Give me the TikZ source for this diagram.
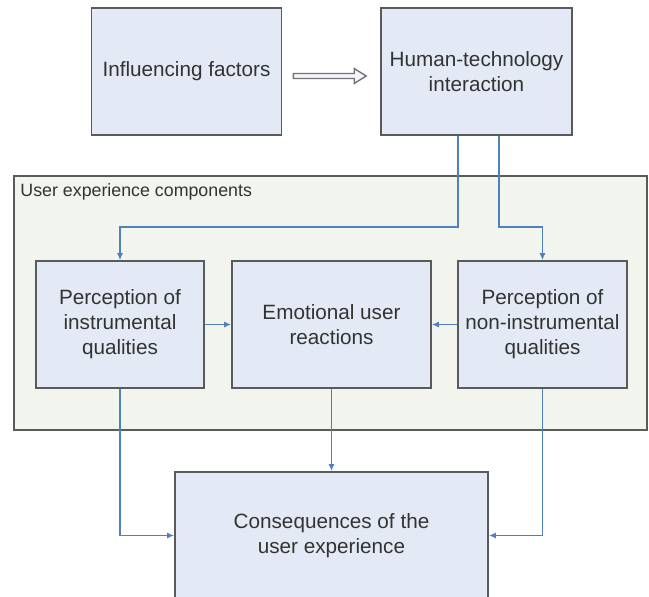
\documentclass[tikz,border=0pt]{standalone}
\usepackage{fontspec}
\setmainfont{Liberation Sans}
\usepackage{xcolor}
\usepackage{tikz}
\usetikzlibrary{arrows.meta,positioning,calc}

\definecolor{boxfill}{HTML}{E3E9F5}
\definecolor{boxline}{HTML}{5A5A5A}
\definecolor{groupfill}{HTML}{F2F4EE}
\definecolor{flowblue}{HTML}{4F81BD}
\definecolor{textgray}{HTML}{333333}

\begin{document}
\begin{tikzpicture}[x=1pt, y=-1pt]
    \tikzstyle{block} = [rectangle, draw=boxline, line width=1.6pt, fill=boxfill, align=center, text=textgray, font=\fontsize{20.7}{25}\selectfont, inner sep=0pt]
    \tikzstyle{group} = [rectangle, draw=boxline, line width=1.5pt, fill=groupfill, inner sep=0pt]
    \tikzstyle{flow} = [draw=flowblue, line width=1.9pt, -{Latex[length=7pt,width=6pt]}]
    \tikzstyle{hollow} = [draw=boxline!85, line width=1.4pt, fill=boxfill!45, line join=miter]

    \useasboundingbox (0,0) rectangle (649,597);

    % Top row
    \node [block, minimum width=190pt, minimum height=127pt] (factors) at (186.5,71.5) {Influencing factors};
    \node [block, minimum width=191pt, minimum height=127pt] (interaction) at (476.5,71.5) {Human-technology\\interaction};

    % Component group
    \node [group, minimum width=633pt, minimum height=254pt] (ux) at (330.5,303) {};
    \node [anchor=base west, text=textgray, font=\fontsize{17.8}{21}\selectfont, inner sep=0pt] (uxlabel) at ([xshift=7pt,yshift=-21pt]ux.north west) {User experience components};

    % Components
    \node [block, minimum width=168pt, minimum height=127pt] (instr) at (120,324.5) {Perception of\\instrumental\\qualities};
    \node [block, minimum width=199pt, minimum height=127pt] (emotion) at (331.5,324.5) {Emotional user\\reactions};
    \node [block, minimum width=169pt, minimum height=127pt] (noninstr) at (542.5,324.5) {Perception of\\non-instrumental\\qualities};

    % Outcome
    \node [block, minimum width=313pt, minimum height=127pt] (conseq) at (331.5,535.5) {Consequences of the\\user experience};

    % Hollow arrow between the top boxes
    \coordinate (hollowstart) at ([xshift=11pt,yshift=-4.5pt]factors.east);
    \coordinate (hollowtip) at ([xshift=-14pt,yshift=-4.5pt]interaction.west);
    \draw [hollow] ($(hollowstart)+(0,-2.5)$) -- ($(hollowtip)+(-12,-2.5)$) -- ($(hollowtip)+(-12,-7.5)$) -- (hollowtip)
        -- ($(hollowtip)+(-12,7.5)$) -- ($(hollowtip)+(-12,2.5)$) -- ($(hollowstart)+(0,2.5)$) -- cycle;

    % Arrows
    \draw [flow] ([xshift=-18.5pt]interaction.south) -- ++(0,91) -| (instr.north);
    \draw [flow] ([xshift=22.5pt]interaction.south) -- ++(0,91) -| (noninstr.north);
    \draw [flow] (instr.east) -- (emotion.west);
    \draw [flow] (noninstr.west) -- (emotion.east);
    \draw [flow] (instr.south) |- (conseq.west);
    \draw [flow] (emotion.south) -- (conseq.north);
    \draw [flow] (noninstr.south) |- (conseq.east);
\end{tikzpicture}
\end{document}
